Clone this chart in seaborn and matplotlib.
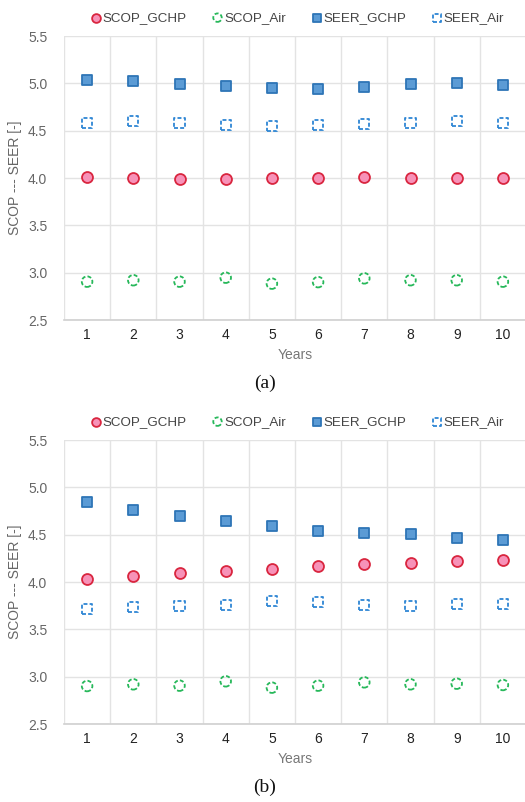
import numpy as np
import pandas as pd
import matplotlib
matplotlib.use("Agg")
import matplotlib.pyplot as plt
import seaborn as sns

years = [1, 2, 3, 4, 5, 6, 7, 8, 9, 10]
year_labels = ["1", "2", "3", "4", "5", "6", "7", "8", "9", "10"]
series_names = ["SCOP_GCHP", "SCOP_Air", "SEER_GCHP", "SEER_Air"]

# panel (a)
a_scop_gchp = [4.01, 4.00, 3.99, 3.99, 4.00, 4.00, 4.01, 4.00, 4.00, 4.00]
a_scop_air = [2.905, 2.92, 2.905, 2.947, 2.884, 2.90, 2.94, 2.92, 2.92, 2.905]
a_seer_gchp = [5.03, 5.02, 4.99, 4.97, 4.95, 4.94, 4.96, 4.99, 5.00, 4.98]
a_seer_air = [4.585, 4.60, 4.58, 4.56, 4.55, 4.56, 4.57, 4.58, 4.60, 4.58]

# panel (b)
b_scop_gchp = [4.032, 4.067, 4.092, 4.116, 4.141, 4.166, 4.187, 4.20, 4.218, 4.236]
b_scop_air = [2.901, 2.919, 2.905, 2.951, 2.884, 2.905, 2.94, 2.919, 2.926, 2.912]
b_seer_gchp = [4.849, 4.764, 4.697, 4.648, 4.588, 4.542, 4.517, 4.503, 4.47, 4.443]
b_seer_air = [3.718, 3.732, 3.75, 3.757, 3.796, 3.789, 3.76, 3.75, 3.767, 3.767]

y_ticks = [2.5, 3.0, 3.5, 4.0, 4.5, 5.0, 5.5]

sns.set_theme(style="white")
plt.rcParams["font.family"] = ["Liberation Sans", "DejaVu Sans"]

styles = {
    "SCOP_GCHP": dict(marker="o", facecolor="#F792B8", edgecolor="#D9263F", ls="-", s=62),
    "SCOP_Air": dict(marker="o", facecolor="none", edgecolor="#27B85A", ls=(0, (2.2, 1.2)), s=58),
    "SEER_GCHP": dict(marker="s", facecolor="#5B9BD5", edgecolor="#2E75B6", ls="-", s=62),
    "SEER_Air": dict(marker="s", facecolor="none", edgecolor="#2E86D4", ls=(0, (2.2, 1.2)), s=52),
}

fig = plt.figure(figsize=(5.25, 8.02), dpi=100)
ax_a = fig.add_axes([64 / 525, 1 - 320 / 802, 462 / 525, 284 / 802])
ax_b = fig.add_axes([64 / 525, 1 - 724 / 802, 462 / 525, 284 / 802])

panels = [
    (ax_a, [a_scop_gchp, a_scop_air, a_seer_gchp, a_seer_air], "(a)", 383, 18),
    (ax_b, [b_scop_gchp, b_scop_air, b_seer_gchp, b_seer_air], "(b)", 787, 422),
]

for ax, vals, cap, cap_y, leg_y in panels:
    for name, v in zip(series_names, vals):
        st = styles[name]
        df = pd.DataFrame({"Years": years, "val": v})
        sns.scatterplot(data=df, x="Years", y="val", ax=ax, marker=st["marker"],
                        s=st["s"], facecolor=st["facecolor"], edgecolor=st["edgecolor"],
                        linewidth=1.3, linestyle=st["ls"], label=name, zorder=3)
    ax.set_xlim(0.5, 10.5)
    ax.set_ylim(2.5, 5.5)
    ax.set_xticks(years)
    ax.set_xticklabels(year_labels, fontsize=10, color="#222222")
    ax.set_xticks(np.arange(0.5, 11, 1.0), minor=True)
    ax.set_yticks(y_ticks)
    ax.set_yticklabels([f"{t:.1f}" for t in y_ticks], fontsize=10, color="#666666")
    ax.grid(True, axis="y", which="major", color="#E3E3E3", linewidth=1.0)
    ax.grid(True, axis="x", which="minor", color="#E3E3E3", linewidth=1.0)
    ax.grid(False, axis="x", which="major")
    ax.tick_params(axis="both", which="both", length=0, pad=6)
    ax.tick_params(axis="y", pad=12)
    for sp in ["top", "right", "left"]:
        ax.spines[sp].set_visible(False)
    ax.spines["bottom"].set_color("#D0D0D0")
    ax.spines["bottom"].set_linewidth(1.2)
    ax.set_xlabel("Years", fontsize=10, color="#777777", labelpad=4)
    ax.set_ylabel("SCOP --- SEER [-]", fontsize=10, color="#666666", labelpad=4)
    handles, labels = ax.get_legend_handles_labels()
    ax.legend_.remove() if ax.legend_ else None
    fig.legend(handles, labels, loc="center", bbox_to_anchor=(298 / 525, 1 - leg_y / 802),
               ncol=4, frameon=False, fontsize=9.6, handlelength=0.6, handletextpad=0.2,
               columnspacing=2.0, markerscale=0.8, labelcolor="#444444",
               borderpad=0, borderaxespad=0)
    fig.text(265 / 525, 1 - cap_y / 802, cap, ha="center", va="center",
             fontsize=14, family=["Liberation Serif", "DejaVu Serif"], color="#111111")

fig.savefig("out.png", dpi=100)
